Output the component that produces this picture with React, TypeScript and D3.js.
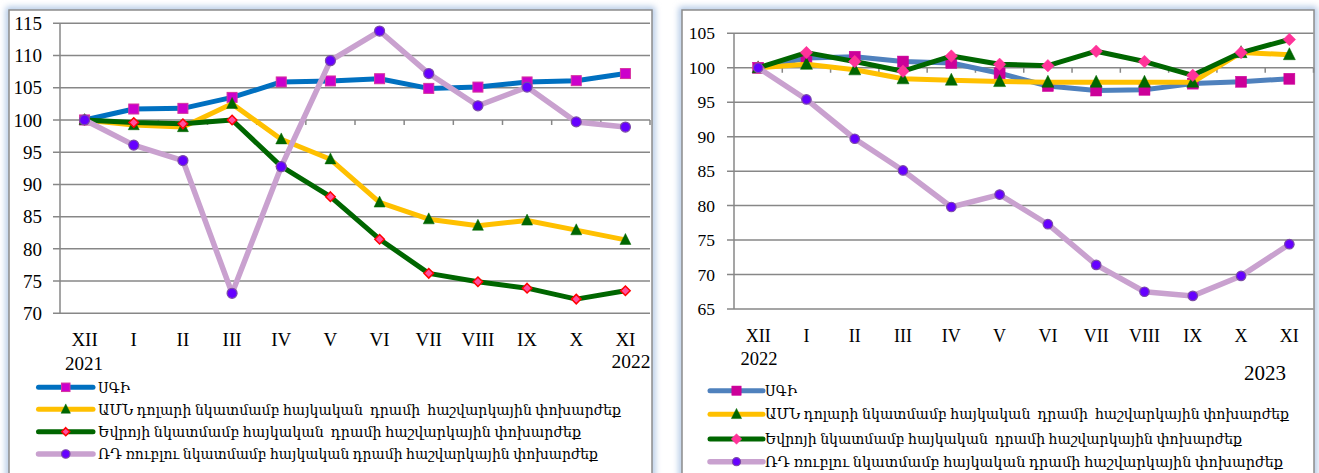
import React from "react";
import * as d3 from "d3";

const months = ["XII", "I", "II", "III", "IV", "V", "VI", "VII", "VIII", "IX", "X", "XI"];
const ticksA = [70, 75, 80, 85, 90, 95, 100, 105, 110, 115];
const ticksB = [65, 70, 75, 80, 85, 90, 95, 100, 105];

const sgiA = [100, 101.7, 101.8, 103.5, 105.9, 106.05, 106.4, 104.9, 105.1, 105.9, 106.1, 107.2];
const usdA = [100, 99.2, 98.9, 102.5, 97.0, 93.9, 87.2, 84.6, 83.6, 84.4, 82.9, 81.4];
const eurA = [100, 99.6, 99.4, 100, 92.8, 88.1, 81.5, 76.2, 74.9, 73.9, 72.2, 73.5];
const rubA = [100, 96.1, 93.7, 73.1, 92.75, 109.2, 113.8, 107.2, 102.2, 105.1, 99.7, 98.9];

const sgiB = [100, 101.4, 101.6, 100.9, 100.7, 99.2, 97.35, 96.7, 96.8, 97.7, 97.97, 98.4];
const usdB = [100, 100.5, 99.7, 98.4, 98.2, 98.0, 97.9, 97.9, 97.9, 97.9, 102.2, 101.9];
const eurB = [100, 102.2, 100.9, 99.5, 101.7, 100.5, 100.3, 102.4, 100.9, 98.9, 102.2, 104.1];
const rubB = [100, 95.4, 89.7, 85.1, 79.8, 81.6, 77.3, 71.4, 67.5, 66.9, 69.8, 74.4];

const legendLabels = [
  "ՍԳԻ",
  "ԱՄՆ դոլարի նկատմամբ հայկական  դրամի  հաշվարկային փոխարժեք",
  "Եվրոյի նկատմամբ հայկական  դրամի հաշվարկային փոխարժեք",
  "ՌԴ ռուբլու նկատմամբ հայկական դրամի հաշվարկային փոխարժեք",
];

type Style = {
  line: string;
  shape: "square" | "triangle" | "diamond" | "circle";
  size: number;
  fill: string;
  stroke: string;
  sw: number;
  width: number;
};

const FONT = "'Liberation Serif', 'DejaVu Serif', serif";

function Marker({ st, cx, cy, scale = 1 }: { st: Style; cx: number; cy: number; scale?: number }) {
  const s = st.size * scale;
  if (st.shape === "square")
    return <rect x={cx - s / 2} y={cy - s / 2} width={s} height={s} fill={st.fill} stroke={st.stroke} strokeWidth={st.sw} />;
  if (st.shape === "triangle")
    return (
      <polygon
        points={`${cx},${cy - s * 0.58} ${cx - s / 2},${cy + s * 0.42} ${cx + s / 2},${cy + s * 0.42}`}
        fill={st.fill}
        stroke={st.stroke}
        strokeWidth={st.sw}
      />
    );
  if (st.shape === "diamond")
    return (
      <polygon
        points={`${cx},${cy - s / 2} ${cx + s / 2},${cy} ${cx},${cy + s / 2} ${cx - s / 2},${cy}`}
        fill={st.fill}
        stroke={st.stroke}
        strokeWidth={st.sw}
      />
    );
  return <circle cx={cx} cy={cy} r={s / 2} fill={st.fill} stroke={st.stroke} strokeWidth={st.sw} />;
}

type ChartProps = {
  frame: [number, number, number, number];
  x0: number;
  x1: number;
  yTop: number;
  yBottom: number;
  ticks: number[];
  series: number[][];
  styles: Style[];
  labelRight: number;
  yFont: number;
  xFont: number;
  monthBaseline: number;
  yearLeft: { text: string; x: number; y: number; size: number };
  yearRight: { text: string; x: number; y: number; size: number };
  legend: { lx0: number; lx1: number; tx: number; font: number; rows: number[]; widths: (number | null)[] };
};

function Chart(p: ChartProps) {
  const x = d3.scaleBand<string>().domain(months).range([p.x0, p.x1]);
  const bw = x.bandwidth();
  const cx = (m: string) => (x(m) as number) + bw / 2;
  const y = d3
    .scaleLinear()
    .domain([d3.min(p.ticks) as number, d3.max(p.ticks) as number])
    .range([p.yBottom, p.yTop]);
  const line = d3
    .line<number>()
    .x((_, i) => cx(months[i]))
    .y((d) => y(d));
  const [fx, fy, fw, fh] = p.frame;
  return (
    <g>
      <rect x={fx} y={fy} width={fw} height={fh} fill="none" stroke="#a9c2e3" strokeWidth={6} filter="url(#glow)" />
      <rect x={fx} y={fy} width={fw} height={fh} fill="#ffffff" stroke="#8c8c8c" strokeWidth={1.5} />
      {p.ticks.map((t) => (
        <g key={t}>
          <line x1={p.x0 - 7} x2={p.x1} y1={y(t)} y2={y(t)} stroke="#878787" strokeWidth={1.5} />
          <text
            x={p.labelRight}
            y={y(t)}
            dy="0.35em"
            textAnchor="end"
            fontFamily={FONT}
            fontSize={p.yFont}
            fill="#000"
          >
            {t}
          </text>
        </g>
      ))}
      <line x1={p.x0} x2={p.x0} y1={p.yTop} y2={p.yBottom} stroke="#878787" strokeWidth={1.5} />
      {months.map((m) => (
        <line
          key={"t" + m}
          x1={(x(m) as number) + bw}
          x2={(x(m) as number) + bw}
          y1={y(100)}
          y2={y(100) + 5}
          stroke="#878787"
          strokeWidth={1.5}
        />
      ))}
      {months.map((m) => (
        <text key={m} x={cx(m)} y={p.monthBaseline} textAnchor="middle" fontFamily={FONT} fontSize={p.xFont} fill="#000">
          {m}
        </text>
      ))}
      <text x={p.yearLeft.x} y={p.yearLeft.y} textAnchor="middle" fontFamily={FONT} fontSize={p.yearLeft.size}>
        {p.yearLeft.text}
      </text>
      <text x={p.yearRight.x} y={p.yearRight.y} textAnchor="middle" fontFamily={FONT} fontSize={p.yearRight.size}>
        {p.yearRight.text}
      </text>
      {p.series.map((s, k) => {
        const st = p.styles[k];
        return (
          <g key={k}>
            <path
              d={line(s) as string}
              fill="none"
              stroke={st.line}
              strokeWidth={st.width}
              strokeLinejoin="round"
              strokeLinecap="round"
            />
            {s.map((v, i) => (
              <Marker key={i} st={st} cx={cx(months[i])} cy={y(v)} />
            ))}
          </g>
        );
      })}
      {legendLabels.map((lab, k) => {
        const st = p.styles[k];
        const ry = p.legend.rows[k];
        const w = p.legend.widths[k];
        return (
          <g key={lab}>
            <line
              x1={p.legend.lx0}
              x2={p.legend.lx1}
              y1={ry}
              y2={ry}
              stroke={st.line}
              strokeWidth={st.width}
              strokeLinecap="round"
            />
            <Marker st={st} cx={(p.legend.lx0 + p.legend.lx1) / 2} cy={ry} scale={0.85} />
            <text
              x={p.legend.tx}
              y={ry}
              dy="0.35em"
              fontFamily={FONT}
              fontSize={p.legend.font}
              style={{ whiteSpace: "pre" }}
              {...(w ? { textLength: w, lengthAdjust: "spacingAndGlyphs" } : {})}
            >
              {lab}
            </text>
          </g>
        );
      })}
    </g>
  );
}

const stylesA: Style[] = [
  { line: "#0070C0", shape: "square", size: 10, fill: "#CC00CC", stroke: "#D6339F", sw: 1, width: 5 },
  { line: "#FFC000", shape: "triangle", size: 11, fill: "#006600", stroke: "#006600", sw: 0.5, width: 5 },
  { line: "#006600", shape: "diamond", size: 9.5, fill: "#FF4FA0", stroke: "#FF0000", sw: 1.5, width: 5 },
  { line: "#C9A1CF", shape: "circle", size: 10, fill: "#6600FF", stroke: "#7B4AA8", sw: 1.2, width: 5.5 },
];

const stylesB: Style[] = [
  { line: "#4F81BD", shape: "square", size: 11, fill: "#CC0099", stroke: "#CC0099", sw: 0.5, width: 5 },
  { line: "#FFC000", shape: "triangle", size: 12, fill: "#006600", stroke: "#006600", sw: 0.5, width: 5 },
  { line: "#006600", shape: "diamond", size: 12.5, fill: "#FF3399", stroke: "#FF3399", sw: 0.5, width: 5 },
  { line: "#C9A1CF", shape: "circle", size: 9.5, fill: "#6600FF", stroke: "#7B4AA8", sw: 1.2, width: 5.5 },
];

export default function App() {
  return (
    <svg
      width={1319}
      height={473}
      style={{ position: "fixed", left: 0, top: 0, background: "#ffffff" }}
      xmlns="http://www.w3.org/2000/svg"
    >
      <defs>
        <filter id="glow" x="-5%" y="-5%" width="110%" height="110%">
          <feGaussianBlur stdDeviation="3" />
        </filter>
      </defs>
      <rect x={0} y={0} width={1319} height={473} fill="#ffffff" />
      <Chart
        frame={[9, 10, 643, 480]}
        x0={60}
        x1={650}
        yTop={23.3}
        yBottom={313.3}
        ticks={ticksA}
        series={[sgiA, usdA, eurA, rubA]}
        styles={stylesA}
        labelRight={42}
        yFont={19}
        xFont={19}
        monthBaseline={346}
        yearLeft={{ text: "2021", x: 84, y: 370, size: 19 }}
        yearRight={{ text: "2022", x: 631, y: 368, size: 19.5 }}
        legend={{ lx0: 38.5, lx1: 93, tx: 98, font: 15, rows: [387.3, 409.3, 431.7, 454], widths: [32, 523, 483, 500] }}
      />
      <Chart
        frame={[682, 10, 632, 480]}
        x0={734}
        x1={1313.5}
        yTop={33.3}
        yBottom={309}
        ticks={ticksB}
        series={[sgiB, usdB, eurB, rubB]}
        styles={stylesB}
        labelRight={715}
        yFont={17.5}
        xFont={18}
        monthBaseline={341.7}
        yearLeft={{ text: "2022", x: 759, y: 365, size: 18.5 }}
        yearRight={{ text: "2023", x: 1265, y: 380, size: 21 }}
        legend={{ lx0: 710, lx1: 763, tx: 765, font: 14, rows: [390.7, 414.3, 439, 461.7], widths: [32, 524, 477, 518] }}
      />
    </svg>
  );
}
